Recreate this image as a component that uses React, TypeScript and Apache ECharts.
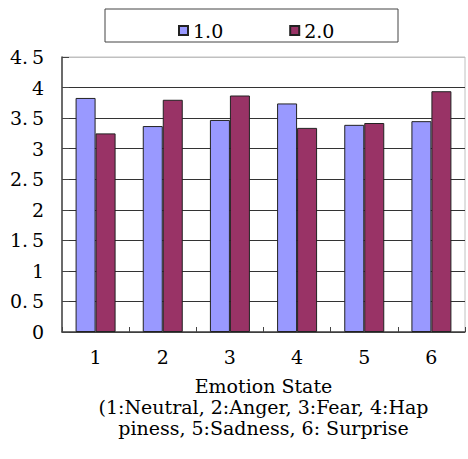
import React, { useEffect, useRef } from "react";
import * as echarts from "echarts";

const categories = ["1", "2", "3", "4", "5", "6"];
const series1Name = "1.0";
const series2Name = "2.0";
const series1Values = [3.83, 3.37, 3.47, 3.74, 3.39, 3.45];
const series2Values = [3.25, 3.80, 3.87, 3.34, 3.42, 3.94];
const xAxisTitle = [
  "Emotion State",
  "(1:Neutral, 2:Anger, 3:Fear, 4:Hap",
  "piness, 5:Sadness, 6: Surprise",
];

const FONT = "DejaVu Serif";

export default function App() {
  const ref = useRef<HTMLDivElement>(null);
  useEffect(() => {
    if (!ref.current) return;
    const chart = echarts.init(ref.current, undefined, { renderer: "svg" });
    const gridColors = ["#333", "#333", "#333", "#333", "#333", "#333", "#333", "#333", "#333", "#c0c0c0"];
    chart.setOption({
      animation: false,
      backgroundColor: "#fff",
      textStyle: { fontFamily: FONT },
      graphic: [
        {
          type: "rect",
          shape: { x: 105, y: 9, width: 293, height: 33 },
          style: { fill: "#fff", stroke: "#444", lineWidth: 1 },
          z: -1,
        },
      ],
      legend: {
        left: 173,
        top: 16,
        itemWidth: 9,
        itemHeight: 9,
        itemGap: 66,
        icon: "rect",
        textStyle: { fontFamily: FONT, fontSize: 19, color: "#000" },
        data: [series1Name, series2Name],
      },
      grid: {
        left: 62,
        right: 3,
        top: 57,
        bottom: 127,
        show: true,
        borderColor: "#c0c0c0",
        borderWidth: 1,
        backgroundColor: "#fff",
      },
      xAxis: {
        type: "category",
        data: categories,
        axisLine: { show: true, lineStyle: { color: "#444", width: 1.5 } },
        axisTick: { show: true, inside: true, length: 5, interval: 0, lineStyle: { color: "#444" } },
        axisLabel: { fontFamily: FONT, fontSize: 19, color: "#000", margin: 15, interval: 0 },
        name: xAxisTitle.join("\n"),
        nameLocation: "middle",
        nameGap: 43,
        nameTextStyle: { fontFamily: FONT, fontSize: 19, color: "#000", lineHeight: 21, align: "center" },
      },
      yAxis: {
        type: "value",
        min: 0,
        max: 4.5,
        interval: 0.5,
        axisLine: { show: true, lineStyle: { color: "#444", width: 1.5 } },
        axisTick: { show: true, inside: true, length: 7, lineStyle: { color: "#444" } },
        axisLabel: {
          fontFamily: FONT,
          fontSize: 19,
          color: "#000",
          margin: 18,
          formatter: (v: number) => String(v).replace(".", ".\u2009"),
        },
        splitLine: { show: true, lineStyle: { color: gridColors, width: 1.2 } },
      },
      series: [
        {
          name: series1Name,
          type: "bar",
          data: series1Values,
          barWidth: 20,
          barGap: "0%",
          itemStyle: { color: "#9999ff", borderColor: "#222", borderWidth: 1 },
        },
        {
          name: series2Name,
          type: "bar",
          data: series2Values,
          barWidth: 20,
          barGap: "0%",
          itemStyle: { color: "#993366", borderColor: "#222", borderWidth: 1 },
        },
      ],
    });
    return () => chart.dispose();
  }, []);
  return (
    <div
      ref={ref}
      style={{ position: "fixed", left: 0, top: 0, width: 468, height: 459 }}
    />
  );
}
